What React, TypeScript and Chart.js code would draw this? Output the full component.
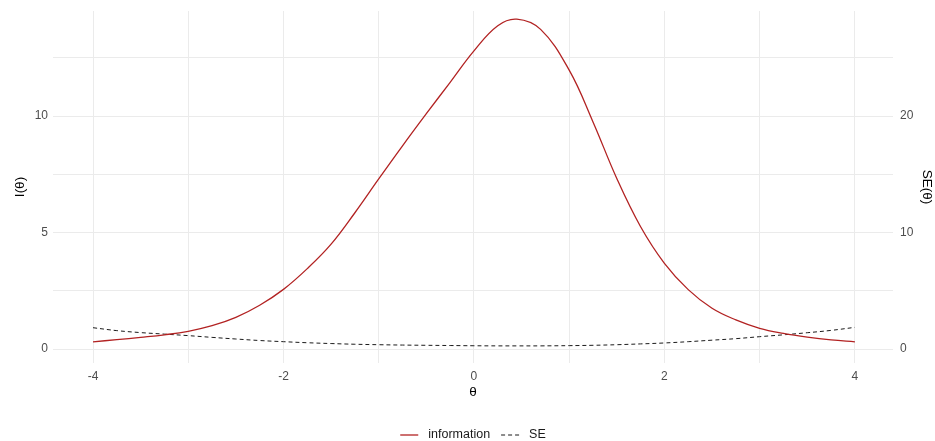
import React, { useEffect, useRef } from 'react';
import { Chart, registerables } from 'chart.js';

Chart.register(...registerables);

const FONT = '"Liberation Sans", Arial, Helvetica, sans-serif';

// θ values (ability)
const theta = [
  -4, -3.75, -3.5, -3.25, -3, -2.75, -2.5, -2.25, -2, -1.75, -1.5, -1.25, -1, -0.75, -0.5, -0.25,
  0, 0.25, 0.45, 0.7, 1, 1.25, 1.5, 1.75, 2, 2.25, 2.5, 2.75, 3, 3.25, 3.5, 3.75, 4,
];

// test information I(θ) (left axis)
const information = [
  0.31, 0.4, 0.5, 0.61, 0.76, 1.0, 1.36, 1.88, 2.56, 3.45, 4.5, 5.85, 7.3, 8.72, 10.1, 11.45,
  12.8, 13.88, 14.16, 13.72, 11.97, 9.75, 7.32, 5.25, 3.68, 2.55, 1.75, 1.25, 0.89, 0.67, 0.51, 0.39, 0.31,
];

// standard error SE(θ) (right axis)
const standardError = [
  1.83, 1.58, 1.41, 1.28, 1.15, 1.0, 0.86, 0.73, 0.63, 0.54, 0.47, 0.41, 0.37, 0.34, 0.32, 0.3,
  0.28, 0.27, 0.27, 0.27, 0.29, 0.32, 0.37, 0.44, 0.52, 0.63, 0.76, 0.89, 1.06, 1.22, 1.4, 1.6, 1.86,
];

const xGridTicks = [-4, -3, -2, -1, 0, 1, 2, 3, 4];
const xLabelTicks = [-4, -2, 0, 2, 4];
const yGridTicks = [0, 2.5, 5, 7.5, 10, 12.5];
const yLabelTicks = [0, 5, 10];
const seTicks = [0, 10, 20];

const legendPlugin = {
  id: 'ggLegend',
  afterDraw(chart: any) {
    const ctx = chart.ctx as CanvasRenderingContext2D;
    const area = chart.chartArea;
    ctx.save();
    ctx.font = `12.5px ${FONT}`;
    ctx.textBaseline = 'middle';
    ctx.textAlign = 'left';
    const keyW = 18;
    const keyGap = 10;
    const itemGap = 11;
    const items = chart.data.datasets.map((ds: any) => ({
      label: ds.label as string,
      color: ds.borderColor as string,
      dash: (ds.borderDash || []) as number[],
      width: ds.borderWidth as number,
      textW: ctx.measureText(ds.label).width,
    }));
    const total =
      items.reduce((s: number, it: any) => s + keyW + keyGap + it.textW, 0) + itemGap * (items.length - 1);
    let x = (area.left + area.right) / 2 - total / 2;
    const y = chart.height - 6;
    items.forEach((it: any) => {
      ctx.beginPath();
      ctx.strokeStyle = it.color;
      ctx.lineWidth = it.width;
      ctx.setLineDash(it.dash);
      ctx.moveTo(x, y);
      ctx.lineTo(x + keyW, y);
      ctx.stroke();
      ctx.setLineDash([]);
      x += keyW + keyGap;
      ctx.fillStyle = '#1a1a1a';
      ctx.fillText(it.label, x, y);
      x += it.textW + itemGap;
    });
    ctx.restore();
  },
};

export default function App() {
  const ref = useRef<HTMLCanvasElement | null>(null);

  useEffect(() => {
    if (!ref.current) return;
    const tickFont = { family: FONT, size: 12 };
    const titleFont = { family: FONT, size: 13.5 };
    const chart = new Chart(ref.current, {
      type: 'line',
      data: {
        datasets: [
          {
            label: 'information',
            data: theta.map((t, i) => ({ x: t, y: information[i] })),
            borderColor: '#b22222',
            borderWidth: 1.3,
            pointRadius: 0,
            fill: false,
            yAxisID: 'y',
            tension: 0.4,
          },
          {
            label: 'SE',
            data: theta.map((t, i) => ({ x: t, y: standardError[i] })),
            borderColor: '#1a1a1a',
            borderWidth: 1,
            borderDash: [4, 3],
            pointRadius: 0,
            fill: false,
            yAxisID: 'y2',
            tension: 0.4,
          },
        ],
      },
      options: {
        responsive: false,
        animation: false,
        layout: { padding: { top: 11, left: 0, right: 0, bottom: 0 } },
        plugins: { legend: { display: false }, tooltip: { enabled: false } },
        scales: {
          x: {
            type: 'linear',
            min: -4.42,
            max: 4.4,
            afterBuildTicks: (s: any) => {
              s.ticks = xGridTicks.map((v) => ({ value: v }));
            },
            afterFit: (s: any) => {
              s.height = 78;
              s.paddingLeft = 0;
              s.paddingRight = 0;
            },
            grid: { color: '#ebebeb', lineWidth: 1, drawTicks: false },
            border: { display: false },
            ticks: {
              autoSkip: false,
              maxRotation: 0,
              padding: 6,
              color: '#4d4d4d',
              font: tickFont,
              callback: (v: any) => (xLabelTicks.includes(Number(v)) ? String(v) : ''),
            },
            title: {
              display: true,
              text: 'θ',
              color: '#000',
              font: titleFont,
              padding: { top: 0, bottom: 41 },
            },
          },
          y: {
            position: 'left',
            min: -0.6,
            max: 14.51,
            afterBuildTicks: (s: any) => {
              s.ticks = yGridTicks.map((v) => ({ value: v }));
            },
            afterFit: (s: any) => {
              s.width = 53;
              s.paddingTop = 0;
              s.paddingBottom = 0;
            },
            grid: { color: '#ebebeb', lineWidth: 1, drawTicks: false },
            border: { display: false },
            ticks: {
              autoSkip: false,
              padding: 5,
              color: '#4d4d4d',
              font: tickFont,
              callback: (v: any) => (yLabelTicks.includes(Number(v)) ? String(v) : ''),
            },
            title: {
              display: true,
              text: 'I(θ)',
              color: '#000',
              font: titleFont,
              padding: { top: 12, bottom: 0 },
            },
          },
          y2: {
            position: 'right',
            min: -1.2,
            max: 29.02,
            afterBuildTicks: (s: any) => {
              s.ticks = seTicks.map((v) => ({ value: v }));
            },
            afterFit: (s: any) => {
              s.width = 42;
              s.paddingTop = 0;
              s.paddingBottom = 0;
            },
            grid: { display: false, drawTicks: false },
            border: { display: false },
            ticks: {
              autoSkip: false,
              padding: 7,
              color: '#4d4d4d',
              font: tickFont,
              callback: (v: any) => String(v),
            },
            title: {
              display: true,
              text: 'SE(θ)',
              color: '#000',
              font: titleFont,
              padding: { top: 0, bottom: 0 },
            },
          },
        },
      },
      plugins: [legendPlugin],
    } as any);
    return () => chart.destroy();
  }, []);

  return (
    <div style={{ position: 'absolute', left: 0, top: 0, width: 935, height: 441, background: '#fff' }}>
      <canvas ref={ref} width={935} height={441} style={{ display: 'block', width: 935, height: 441 }} />
    </div>
  );
}
